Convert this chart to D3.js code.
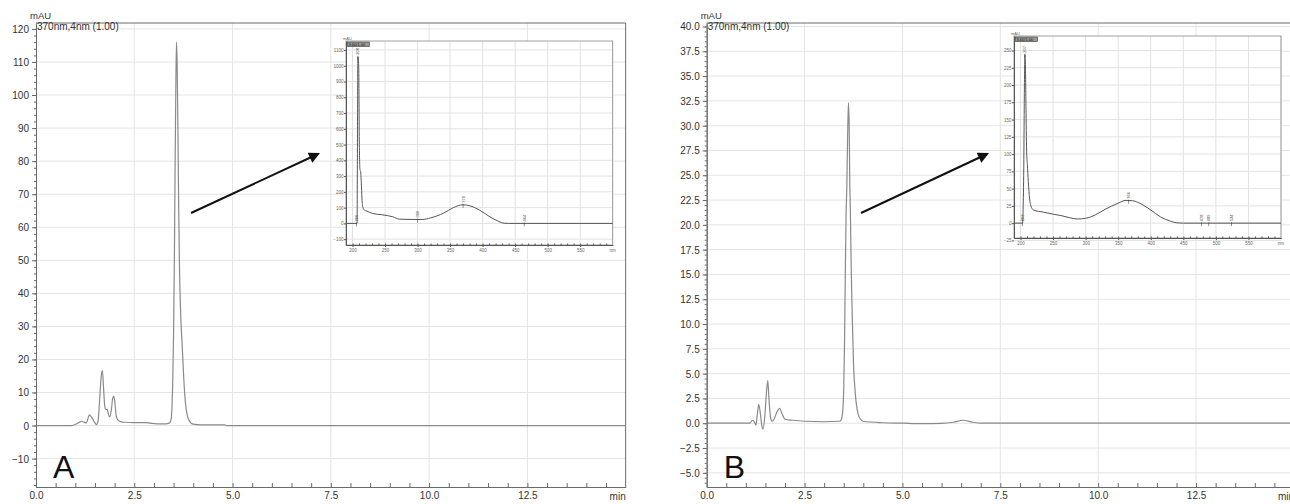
<!DOCTYPE html>
<html><head><meta charset="utf-8">
<script src="https://cdn.jsdelivr.net/npm/d3@7"></script>
<style>
html,body{margin:0;padding:0;background:#fff;}
svg{display:block;font-family:"Liberation Sans",Arial,sans-serif;}
</style></head>
<body>
<svg id="chart" width="1290" height="504"></svg>
<script>
// ---------- DATA ----------
// Chromatogram A (retention time in min, absorbance mAU)
const timeA = [0,0.9,1.0,1.1,1.16,1.22,1.28,1.36,1.42,1.48,1.54,1.58,1.62,1.66,1.69,1.72,1.75,1.78,1.81,1.84,1.88,1.92,1.95,1.98,2.01,2.04,2.08,2.15,2.25,2.5,2.8,2.9,3.1,3.3,3.4,3.44,3.46,3.48,3.5,3.52,3.54,3.56,3.575,3.59,3.61,3.63,3.65,3.68,3.72,3.76,3.8,3.85,3.9,3.95,4.0,4.2,4.8,4.85,15];
const signalA = [0,0,0.3,1.0,1.3,1.0,0.8,3.2,2.4,1.2,0.3,1.5,8,15,16.6,11,5.8,4.8,5.0,3.5,2.6,5,8.2,8.8,6.5,3,1.7,1.2,1.0,0.9,0.9,0.7,0.5,0.5,0.8,2,6,14,28,50,80,106,116,110,90,66,48,34,24,14,7,3,1.4,0.7,0.4,0.2,0.2,0,0];
// Chromatogram B
const timeB = [0,1.1,1.17,1.22,1.26,1.29,1.33,1.37,1.41,1.44,1.48,1.52,1.56,1.59,1.63,1.67,1.72,1.79,1.86,1.92,2.0,2.2,2.5,3.0,3.4,3.44,3.47,3.5,3.52,3.54,3.56,3.58,3.6,3.62,3.64,3.655,3.665,3.675,3.69,3.71,3.73,3.75,3.78,3.82,3.87,3.93,4.0,4.5,5.0,5.5,6.0,6.3,6.55,6.8,7.0,15];
const signalB = [0,0,0.3,0.1,-0.2,0.8,1.9,1.0,-0.3,-0.6,0.5,2.8,4.3,2.5,0.6,0.2,0.4,1.1,1.5,1.0,0.4,0.3,0.2,0.15,0.2,0.4,1,3.5,8,15,21,24,29,32.3,30,24,22.5,20,16,12,9,6,3.8,2,0.9,0.4,0.2,0.05,0,-0.05,-0.02,0.1,0.3,0.1,0,0];
// Inset UV spectra (wavelength nm, mAU)
const wlA = [190,206,207,207.5,208.3,209.5,210.5,211.5,212.5,213.5,214.5,216,218,222,231,245,262,272,290,308,320,340,355,370,380,395,410,425,433,440,600];
const absA = [0,0,0,400,1057,1000,500,340,330,260,160,100,85,78,63,55,42,27,25,25,35,65,100,118,112,85,45,12,1,0,0];
const wlB = [190,203,204,205,206,206.7,207.5,208.5,209.5,210.5,212,214,216,220,235,250,262,275,287,300,315,330,350,362,372,385,400,415,430,440,450,600];
const absB = [0,0,20,80,200,244,230,160,100,85,60,35,25,19,16,13,11,8,6,7,12,20,29,33,32.5,28,19,9,3,0.5,0,0];
// Tick values / labels
const xTicks = [0,2.5,5.0,7.5,10.0,12.5];
const yTicksA = [-10,0,10,20,30,40,50,60,70,80,90,100,110,120];
const yTicksB = [-5.0,-2.5,0.0,2.5,5.0,7.5,10.0,12.5,15.0,17.5,20.0,22.5,25.0,27.5,30.0,32.5,35.0,37.5,40.0];
const insetXTicks = [200,250,300,350,400,450,500,550];
const insetYTicksA = [-100,0,100,200,300,400,500,600,700,800,900,1000,1100];
const insetYTicksB = [-25,0,25,50,75,100,125,150,175,200,225,250];
const peakLabelsA = [{wl:208.3,t:"208"},{wl:206,t:"206"},{wl:300,t:"300"},{wl:370,t:"370"},{wl:464,t:"464"}];
const peakLabelsB = [{wl:206.7,t:"207"},{wl:203,t:"203"},{wl:366,t:"366"},{wl:478,t:"478"},{wl:489,t:"489"},{wl:524,t:"524"}];

const svg = d3.select("#chart");
const gridCol = "#e4e4e4", axisCol = "#6a6a6a", textCol = "#333", lineCol = "#8a8a8a";

function drawPanel(o){
  const g = svg.append("g");
  const x = d3.scaleLinear().domain([0,15]).range([o.x0, o.x0 + 15*o.pxPerMin]);
  const y = d3.scaleLinear().domain(o.yDom).range([487, 23]);
  g.selectAll(".gx").data(xTicks.slice(1)).join("line")
    .attr("x1", d=>x(d)).attr("x2", d=>x(d)).attr("y1",23).attr("y2",487)
    .attr("stroke",gridCol).attr("stroke-width",1);
  g.selectAll(".gy").data(o.yTicks).join("line")
    .attr("x1", x(0)).attr("x2", x(15)).attr("y1", d=>y(d)).attr("y2", d=>y(d))
    .attr("stroke",gridCol).attr("stroke-width",1);
  g.append("line").attr("x1",x(0)).attr("x2",x(15)).attr("y1",23).attr("y2",23).attr("stroke",axisCol);
  g.append("line").attr("x1",x(15)).attr("x2",x(15)).attr("y1",23).attr("y2",487).attr("stroke",axisCol);
  const pts = o.t.map((d,i)=>[d,o.v[i]]);
  g.append("path").datum(pts)
    .attr("d", d3.line().x(d=>x(d[0])).y(d=>y(d[1])).curve(d3.curveMonotoneX))
    .attr("fill","none").attr("stroke",lineCol).attr("stroke-width",1.2);
  const yAx = g.append("g").attr("transform",`translate(${x(0)},0)`)
    .call(d3.axisLeft(y).tickValues(o.yTicks).tickFormat(o.fmt).tickSize(4).tickSizeOuter(0));
  const yMin = g.append("g").attr("transform",`translate(${x(0)},0)`)
    .call(d3.axisLeft(y).tickValues(d3.range(o.minStart, o.yDom[1], o.minStep)).tickFormat("").tickSize(2).tickSizeOuter(0));
  const xAx = g.append("g").attr("transform",`translate(0,487)`)
    .call(d3.axisBottom(x).tickValues(xTicks).tickFormat(d3.format(".1f")).tickSize(0).tickPadding(5).tickSizeOuter(0));
  const xMin = g.append("g").attr("transform",`translate(0,487)`)
    .call(d3.axisTop(x).tickValues(d3.range(0.5,15,0.5)).tickFormat("").tickSize(4).tickSizeOuter(0));
  [yAx,yMin,xAx,xMin].forEach(a=>{
    a.select(".domain").attr("stroke",axisCol);
    a.selectAll(".tick line").attr("stroke",axisCol);
    a.selectAll("text").attr("fill",textCol).style("font-size","10px").style("font-family","'Liberation Sans',Arial,sans-serif");
  });
  yAx.selectAll("text").attr("dy","0.35em");
  g.append("text").attr("x",x(15)-8).attr("y",487+13).attr("text-anchor","middle")
    .attr("fill",textCol).style("font-size","10px").text("min");
  g.append("text").attr("x",x(0)-6).attr("y",19).attr("fill",textCol).style("font-size","9.5px").text("mAU");
  g.append("text").attr("x",x(0)+1).attr("y",o.subY).attr("fill",textCol).style("font-size","10px").text("370nm,4nm (1.00)");
  g.append("text").attr("x",o.x0+17).attr("y",478).attr("fill","#111").style("font-size","32px").text(o.letter);
  g.append("line").attr("x1",o.arrow[0]).attr("y1",o.arrow[1]).attr("x2",o.arrow[2]).attr("y2",o.arrow[3])
    .attr("stroke","#111").attr("stroke-width",2).attr("marker-end","url(#ah)");
  drawInset(o.inset);
}

function drawInset(o){
  const g = svg.append("g");
  const x = d3.scaleLinear().domain([190,600]).range([o.l,o.r]);
  const y = d3.scaleLinear().domain(o.yDom).range([o.b,o.t]);
  g.append("rect").attr("x",o.l).attr("y",o.t).attr("width",o.r-o.l).attr("height",o.b-o.t).attr("fill","#fff");
  g.selectAll(".vg").data(insetXTicks.concat([600])).join("line")
    .attr("x1",d=>x(d)).attr("x2",d=>x(d)).attr("y1",o.t).attr("y2",o.b).attr("stroke","#e2e2e2");
  g.selectAll(".hg").data(o.yTicks).join("line")
    .attr("x1",o.l).attr("x2",o.r).attr("y1",d=>y(d)).attr("y2",d=>y(d)).attr("stroke","#e2e2e2");
  g.append("rect").attr("x",o.l).attr("y",o.t).attr("width",o.r-o.l).attr("height",o.b-o.t)
    .attr("fill","none").attr("stroke","#8a8a8a").attr("stroke-width",0.8);
  const pts = o.wl.map((d,i)=>[d,o.ab[i]]);
  g.append("path").datum(pts).attr("d",d3.line().x(d=>x(d[0])).y(d=>y(d[1])).curve(d3.curveMonotoneX))
    .attr("fill","none").attr("stroke","#555").attr("stroke-width",1);
  const yAx = g.append("g").attr("transform",`translate(${o.l},0)`)
    .call(d3.axisLeft(y).tickValues(o.yTicks).tickFormat(d3.format("d")).tickSize(2).tickSizeOuter(0));
  const xAx = g.append("g").attr("transform",`translate(0,${o.b})`)
    .call(d3.axisBottom(x).tickValues(insetXTicks).tickFormat(d3.format("d")).tickSize(2).tickSizeOuter(0));
  const xMin = g.append("g").attr("transform",`translate(0,${o.b})`)
    .call(d3.axisTop(x).tickValues(d3.range(200,600,10)).tickFormat("").tickSize(1.5).tickSizeOuter(0));
  [yAx,xAx,xMin].forEach(a=>{
    a.select(".domain").attr("stroke","#555");
    a.selectAll(".tick line").attr("stroke","#555");
    a.selectAll("text").attr("fill","#666").style("font-size","4.5px").style("font-family","'Liberation Sans',Arial,sans-serif");
  });
  yAx.selectAll("text").attr("x",-2.5);
  xAx.selectAll("text").attr("y",3.5);
  g.append("text").attr("x",x(600)).attr("y",o.b+7).attr("text-anchor","middle").attr("fill","#666").style("font-size","4.5px").text("nm");
  g.append("text").attr("x",o.l-3).attr("y",o.t-1.5).attr("fill","#666").style("font-size","4px").text("mAU");
  g.append("rect").attr("x",o.l+1.5).attr("y",o.t+1).attr("width",22).attr("height",4.5).attr("fill","#9a9a9a").attr("stroke","#333").attr("stroke-width",0.6);
  g.append("text").attr("x",o.l+2.5).attr("y",o.t+4.6).attr("fill","#111").style("font-size","4px").text("3.60/1.00");
  o.labels.forEach(p=>{
    const i = d3.bisectLeft(o.wl,p.wl);
    const j = Math.min(i,o.wl.length-1);
    const v = o.ab[j];
    const px = x(p.wl), py = y(v);
    g.append("line").attr("x1",px).attr("x2",px).attr("y1",py-1).attr("y2",py+3).attr("stroke","#444").attr("stroke-width",0.6);
    g.append("text").attr("transform",`translate(${px+1.5},${py-2}) rotate(-90)`).attr("fill","#444").style("font-size","4px").text(p.t);
  });
}

svg.append("defs").append("marker").attr("id","ah").attr("viewBox","0 0 10 10")
  .attr("refX",8).attr("refY",5).attr("markerWidth",6.5).attr("markerHeight",5.5).attr("orient","auto")
  .attr("markerUnits","strokeWidth")
  .append("path").attr("d","M0,0 L10,5 L0,10 Z").attr("fill","#111");

drawPanel({x0:36, pxPerMin:39.31, yDom:[-18.6,121.8], yTicks:yTicksA, fmt:d3.format("d"),
  minStart:-18, minStep:2, t:timeA, v:signalA, letter:"A", subY:30, arrow:[191,213,318,154],
  inset:{l:346,r:612.7,t:41,b:245,yDom:[-137,1157],yTicks:insetYTicksA,wl:wlA,ab:absA,labels:peakLabelsA}});
drawPanel({x0:706.7, pxPerMin:39.15, yDom:[-6.43,40.35], yTicks:yTicksB, fmt:d3.format(".1f"),
  minStart:-6, minStep:0.5, t:timeB, v:signalB, letter:"B", subY:30, arrow:[861,213,987,154],
  inset:{l:1014,r:1281,t:36,b:238,yDom:[-21.5,271],yTicks:insetYTicksB,wl:wlB,ab:absB,labels:peakLabelsB}});
</script>
</body></html>
